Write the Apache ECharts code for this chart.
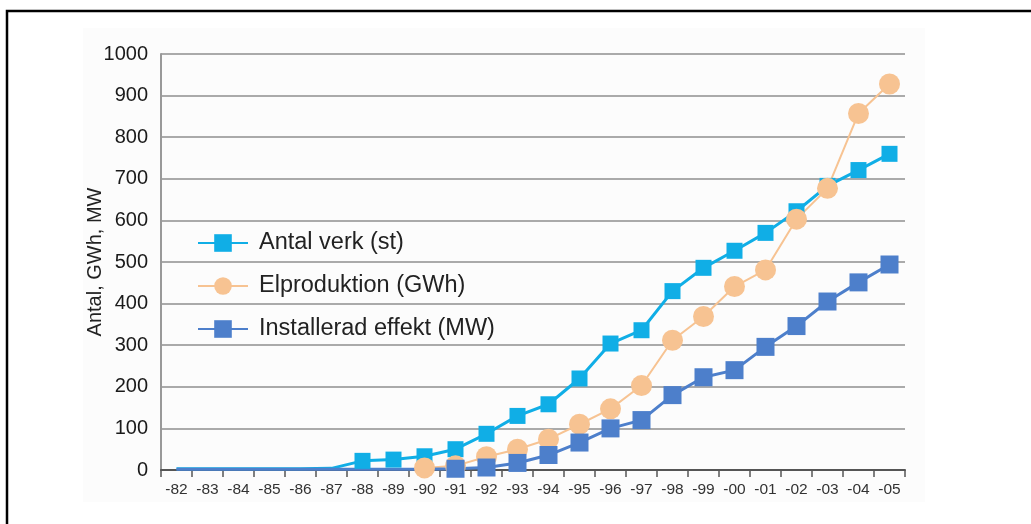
<!DOCTYPE html>
<html>
<head>
<meta charset="utf-8">
<script src="https://cdn.jsdelivr.net/npm/echarts@6/dist/echarts.min.js"></script>
<style>
html,body{margin:0;padding:0;background:#fff;}
#c{width:1031px;height:524px;}
</style>
</head>
<body>
<div id="c"></div>
<script>
const years = ['-82','-83','-84','-85','-86','-87','-88','-89','-90','-91','-92','-93','-94','-95','-96','-97','-98','-99','-00','-01','-02','-03','-04','-05'];
const antalVerk = [3,3,3,3,3,4,22,25,33,50,87,130,158,220,304,336,430,486,527,570,622,683,721,760];
const elproduktion = [null,null,null,null,null,null,null,null,5,10,32,50,74,110,147,203,312,369,441,481,603,677,857,928];
const installerad = [2,2,2,2,2,2,2,2,2,3,6,17,36,66,100,120,180,223,240,296,346,405,451,494];
const seriesNames = ['Antal verk (st)','Elproduktion (GWh)','Installerad effekt (MW)'];
const yAxisName = 'Antal, GWh, MW';
const firstMarker = [6, 8, 9];

const FONT = '"Liberation Sans", Arial, Helvetica, sans-serif';
const chart = echarts.init(document.getElementById('c'), null, {renderer:'canvas'});

function sizeFn(start, size){
  return function(v, p){ return (p && p.dataIndex < start) ? 0 : size; };
}

chart.setOption({
  animation:false,
  backgroundColor:'#fff',
  graphic:[
    {type:'rect', z:-10, shape:{x:83,y:28,width:842,height:474}, style:{fill:'#fcfcfc'}},
    {type:'rect', z:100, shape:{x:7,y:11,width:1040,height:530}, style:{fill:'none', stroke:'#000', lineWidth:2.5}}
  ],
  grid:{left:161, top:54, right:126, bottom:54, containLabel:false},
  legend:{
    orient:'vertical', left:192, top:226, itemWidth:50, itemHeight:22, itemGap:19,
    textStyle:{fontFamily:FONT, fontSize:23.5, color:'#222', padding:[0,0,0,6]},
    data:seriesNames
  },
  xAxis:{
    type:'category', data:years, boundaryGap:true,
    axisLine:{lineStyle:{color:'#555', width:2}},
    axisTick:{show:true, length:7, lineStyle:{color:'#555', width:1.5}},
    axisLabel:{fontFamily:FONT, fontSize:15.5, color:'#333', margin:12, interval:0}
  },
  yAxis:{
    type:'value', min:0, max:1000, interval:100,
    name:yAxisName, nameLocation:'middle', nameGap:56, nameRotate:90, nameMoveOverlap:false,
    nameTextStyle:{fontFamily:FONT, fontSize:20, color:'#222'},
    axisLine:{show:true, lineStyle:{color:'#999', width:2}},
    axisTick:{show:false},
    axisLabel:{fontFamily:FONT, fontSize:20, color:'#1a1a1a', margin:13, formatter:function(v){return String(v);}},
    splitLine:{lineStyle:{color:'#aaa', width:2}}
  },
  series:[
    {name:seriesNames[0], type:'line', data:antalVerk, symbol:'rect', symbolSize:sizeFn(firstMarker[0],16),
     itemStyle:{color:'#10aee6'}, lineStyle:{color:'#10aee6', width:3}},
    {name:seriesNames[1], type:'line', data:elproduktion, symbol:'circle', symbolSize:sizeFn(firstMarker[1],21),
     itemStyle:{color:'#f7c392'}, lineStyle:{color:'#f7c392', width:2}},
    {name:seriesNames[2], type:'line', data:installerad, symbol:'rect', symbolSize:sizeFn(firstMarker[2],18),
     itemStyle:{color:'#4d7fcb'}, lineStyle:{color:'#4d7fcb', width:3}}
  ]
});
</script>
</body>
</html>
